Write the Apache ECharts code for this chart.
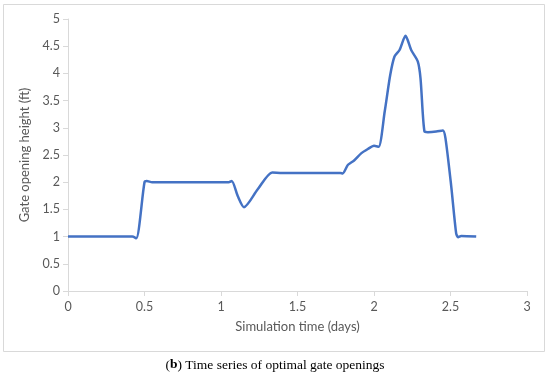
<!DOCTYPE html>
<html>
<head>
<meta charset="utf-8">
<script src="https://cdn.jsdelivr.net/npm/echarts@6/dist/echarts.min.js"></script>
<style>html,body{margin:0;padding:0;background:#fff;}#c{width:550px;height:372px;}</style>
</head>
<body>
<div id="c"></div>
<script>
var timeDays = [0, 0.42, 0.446, 0.50, 0.515, 0.55, 1.05, 1.07, 1.11, 1.15, 1.24, 1.335, 1.40, 1.78, 1.795, 1.83, 1.87, 1.916, 1.96, 2.0, 2.03, 2.07, 2.106, 2.134, 2.167, 2.206, 2.243, 2.286, 2.304, 2.33, 2.352, 2.407, 2.45, 2.467, 2.505, 2.537, 2.55, 2.57, 2.668];
var gateOpening = [1.0, 1.0, 0.97, 2.0, 2.02, 2.0, 2.0, 2.02, 1.74, 1.54, 1.87, 2.18, 2.17, 2.17, 2.16, 2.32, 2.40, 2.53, 2.61, 2.67, 2.65, 3.30, 3.97, 4.31, 4.43, 4.69, 4.43, 4.22, 3.91, 2.93, 2.92, 2.93, 2.95, 2.81, 1.92, 1.06, 0.99, 1.01, 1.0];
var xTicks = [0, 0.5, 1, 1.5, 2, 2.5, 3];
var yTicks = [0, 0.5, 1, 1.5, 2, 2.5, 3, 3.5, 4, 4.5, 5];

var data = timeDays.map(function (t, i) { return [t, gateOpening[i]]; });
var font = 'Lato';
var chart = echarts.init(document.getElementById('c'), null, {renderer: 'canvas'});
chart.setOption({
  animation: false,
  backgroundColor: '#fff',
  title: {
    text: '({b|b}) Time series of optimal gate openings',
    left: 'center',
    top: 353,
    textStyle: {
      fontFamily: 'Liberation Serif',
      fontSize: 13.5,
      fontWeight: 'normal',
      color: '#000',
      rich: {
        b: {fontFamily: 'Liberation Serif', fontSize: 13.5, fontWeight: 'bold', color: '#000'}
      }
    }
  },
  graphic: [{
    type: 'rect',
    shape: {x: 3.5, y: 4.5, width: 541, height: 347},
    style: {fill: 'none', stroke: '#d9d9d9', lineWidth: 1},
    silent: true
  }],
  grid: {left: 68, right: 23, top: 19, bottom: 81},
  xAxis: {
    type: 'value',
    min: xTicks[0],
    max: xTicks[xTicks.length - 1],
    interval: 0.5,
    name: 'Simulation time (days)',
    nameLocation: 'middle',
    nameGap: 29,
    nameTextStyle: {fontFamily: font, fontSize: 13, color: '#595959'},
    axisLine: {lineStyle: {color: '#d9d9d9', width: 1}},
    axisTick: {show: true, length: 5, lineStyle: {color: '#d9d9d9'}},
    axisLabel: {fontFamily: font, fontSize: 12.5, color: '#595959', margin: 9,
      formatter: function (v) { return String(v); }},
    splitLine: {show: false}
  },
  yAxis: {
    type: 'value',
    min: yTicks[0],
    max: yTicks[yTicks.length - 1],
    interval: 0.5,
    name: 'Gate opening height (ft)',
    nameLocation: 'middle',
    nameGap: 31,
    nameTextStyle: {fontFamily: font, fontSize: 13, color: '#595959'},
    axisLine: {show: true, lineStyle: {color: '#d9d9d9', width: 1}},
    axisTick: {show: true, length: 5, lineStyle: {color: '#d9d9d9'}},
    axisLabel: {fontFamily: font, fontSize: 12.5, color: '#595959', margin: 8,
      formatter: function (v) { return String(v); }},
    splitLine: {show: false}
  },
  series: [{
    type: 'line',
    data: data,
    smooth: 0.25,
    showSymbol: false,
    symbol: 'none',
    lineStyle: {color: '#4472C4', width: 2.5}
  }]
});
</script>
</body>
</html>
